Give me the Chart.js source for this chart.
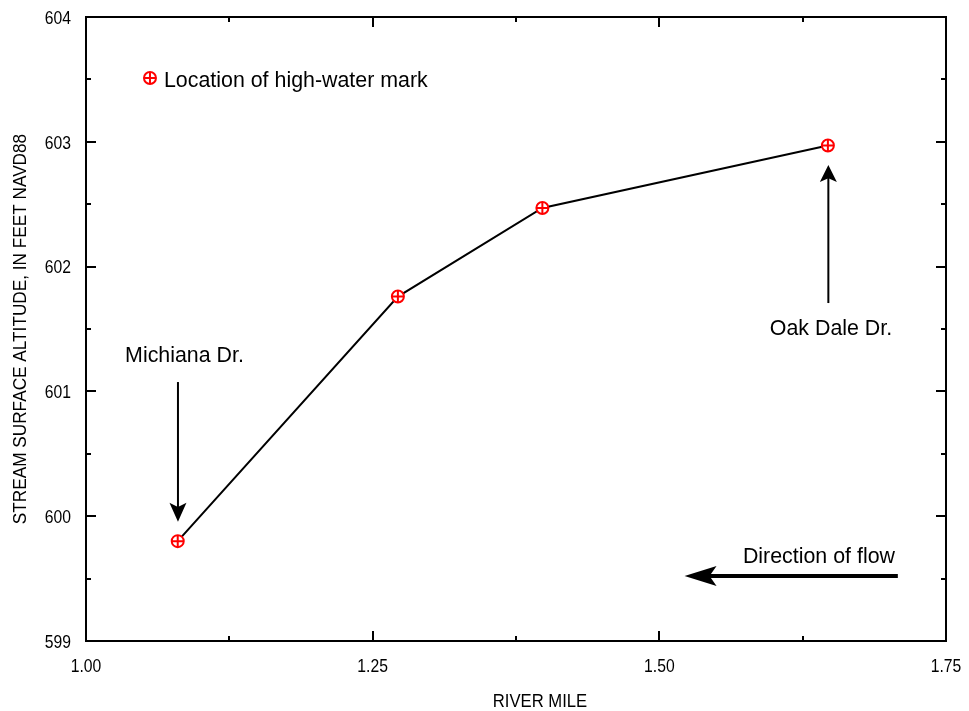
<!DOCTYPE html>
<html>
<head>
<meta charset="utf-8">
<script src="https://cdn.jsdelivr.net/npm/chart.js@4/dist/chart.umd.min.js"></script>
<style>
  html, body { margin: 0; padding: 0; background: #fff; }
  #wrap { width: 969px; height: 711px; }
</style>
</head>
<body>
<div id="wrap"><canvas id="profileChart" width="969" height="711"></canvas></div>
<script>
// High-water mark profile data
const riverMile = [1.080, 1.272, 1.398, 1.647];
const altitude = [599.80, 601.76, 602.47, 602.97];
const xTicks = [1.00, 1.25, 1.50, 1.75];
const yTicks = [599, 600, 601, 602, 603, 604];

const FONT = "'Liberation Sans', Arial, sans-serif";
const RED = '#ff0000';

// annotations in data units (y = text baseline)
const labels = [
  { text: 'Michiana Dr.', x: 1.0859, y: 601.236, align: 'center' },
  { text: 'Oak Dale Dr.', x: 1.6497, y: 601.452, align: 'center' },
  { text: 'Direction of flow', x: 1.7055, y: 599.625, align: 'right' },
  { text: 'Location of high-water mark', x: 1.068, y: 603.439, align: 'left' }
];
const arrows = [
  { x0: 1.0802, y0: 601.075, x1: 1.0802, y1: 599.955, width: 2, head: 19, half: 8.5 },
  { x0: 1.6474, y0: 601.708, x1: 1.6474, y1: 602.814, width: 2, head: 17, half: 8.5 },
  { x0: 1.708, y0: 599.521, x1: 1.522, y1: 599.521, width: 4, head: 32, half: 10 }
];
const legendPos = { x: 1.0558, y: 603.511 };

// condensed look: draw text squeezed horizontally
function squeezedText(ctx, text, x, y, size, sq, align, rot) {
  ctx.save();
  ctx.translate(x, y);
  if (rot) ctx.rotate(rot);
  ctx.scale(sq, 1);
  ctx.font = size + 'px ' + FONT;
  ctx.textAlign = align;
  ctx.textBaseline = 'alphabetic';
  ctx.fillStyle = '#000';
  ctx.fillText(text, 0, 0);
  ctx.restore();
}

function drawMarker(ctx, px, py) {
  ctx.save();
  ctx.strokeStyle = RED;
  ctx.lineWidth = 2;
  ctx.fillStyle = '#fff';
  ctx.beginPath();
  ctx.arc(px, py, 6, 0, Math.PI * 2);
  ctx.fill();
  ctx.stroke();
  ctx.beginPath();
  ctx.moveTo(px - 6, py); ctx.lineTo(px + 6, py);
  ctx.moveTo(px, py - 6); ctx.lineTo(px, py + 6);
  ctx.stroke();
  ctx.restore();
}

const framePlugin = {
  id: 'framePlugin',
  afterDraw(chart) {
    const ctx = chart.ctx;
    const a = chart.chartArea;
    const xs = chart.scales.x, ys = chart.scales.y;
    ctx.save();
    ctx.strokeStyle = '#000';
    ctx.fillStyle = '#000';
    ctx.lineWidth = 2;
    ctx.strokeRect(a.left, a.top, a.right - a.left, a.bottom - a.top);

    // inward ticks, major and minor, on all four sides
    ctx.beginPath();
    for (let v = 1.0; v <= 1.75 + 1e-9; v += 0.125) {
      const major = Math.abs((v / 0.25) - Math.round(v / 0.25)) < 1e-6;
      const len = major ? 10 : 5;
      const px = Math.round(xs.getPixelForValue(v));
      ctx.moveTo(px, a.bottom); ctx.lineTo(px, a.bottom - len);
      ctx.moveTo(px, a.top); ctx.lineTo(px, a.top + len);
    }
    for (let v = 599; v <= 604 + 1e-9; v += 0.5) {
      const major = Math.abs(v - Math.round(v)) < 1e-6;
      const len = major ? 10 : 5;
      const py = Math.round(ys.getPixelForValue(v));
      ctx.moveTo(a.left, py); ctx.lineTo(a.left + len, py);
      ctx.moveTo(a.right, py); ctx.lineTo(a.right - len, py);
    }
    ctx.stroke();

    // tick labels
    xTicks.forEach(v => {
      squeezedText(ctx, v.toFixed(2), xs.getPixelForValue(v), a.bottom + 31, 18.5, 0.85, 'center');
    });
    yTicks.forEach(v => {
      squeezedText(ctx, String(v), a.left - 15, ys.getPixelForValue(v) + 6.7, 18.5, 0.85, 'right');
    });

    // axis titles
    squeezedText(ctx, 'RIVER MILE', 540, 707, 18.5, 0.9, 'center');
    squeezedText(ctx, 'STREAM SURFACE ALTITUDE, IN FEET NAVD88', 26, (a.top + a.bottom) / 2, 18.5, 0.93, 'center', -Math.PI / 2);

    // text annotations
    labels.forEach(l => {
      squeezedText(ctx, l.text, xs.getPixelForValue(l.x), ys.getPixelForValue(l.y), 22.5, 0.95, l.align);
    });

    // arrows
    arrows.forEach(r => {
      const x0 = xs.getPixelForValue(r.x0), y0 = ys.getPixelForValue(r.y0);
      const x1 = xs.getPixelForValue(r.x1), y1 = ys.getPixelForValue(r.y1);
      const ang = Math.atan2(y1 - y0, x1 - x0);
      const cx = Math.cos(ang), cy = Math.sin(ang);
      const bx = x1 - cx * r.head, by = y1 - cy * r.head;
      ctx.lineWidth = r.width;
      ctx.beginPath();
      ctx.moveTo(x0, y0);
      ctx.lineTo(x1 - cx * r.head * 0.6, y1 - cy * r.head * 0.6);
      ctx.stroke();
      const nx = -cy, ny = cx;
      ctx.beginPath();
      ctx.moveTo(x1, y1);
      ctx.lineTo(bx + nx * r.half, by + ny * r.half);
      ctx.lineTo(x1 - cx * r.head * 0.78, y1 - cy * r.head * 0.78);
      ctx.lineTo(bx - nx * r.half, by - ny * r.half);
      ctx.closePath();
      ctx.fill();
    });

    // legend marker
    drawMarker(ctx, xs.getPixelForValue(legendPos.x), ys.getPixelForValue(legendPos.y));
    ctx.restore();
  }
};

const points = riverMile.map((x, i) => ({ x: x, y: altitude[i] }));

new Chart(document.getElementById('profileChart'), {
  type: 'scatter',
  data: {
    datasets: [{
      data: points,
      showLine: true,
      borderColor: '#000',
      borderWidth: 2,
      pointStyle: 'circle',
      pointRadius: 6,
      pointBorderWidth: 2,
      pointBorderColor: RED,
      pointBackgroundColor: '#fff',
      order: 1
    }, {
      data: points,
      showLine: false,
      pointStyle: 'cross',
      pointRadius: 6,
      pointBorderWidth: 2,
      pointBorderColor: RED,
      order: 0
    }]
  },
  options: {
    responsive: false,
    animation: false,
    layout: { padding: { top: 17, right: 23, left: 86, bottom: 70 } },
    plugins: { legend: { display: false }, tooltip: { enabled: false } },
    scales: {
      x: { type: 'linear', min: 1.0, max: 1.75, display: false },
      y: { type: 'linear', min: 599, max: 604, display: false }
    }
  },
  plugins: [framePlugin]
});
</script>
</body>
</html>
